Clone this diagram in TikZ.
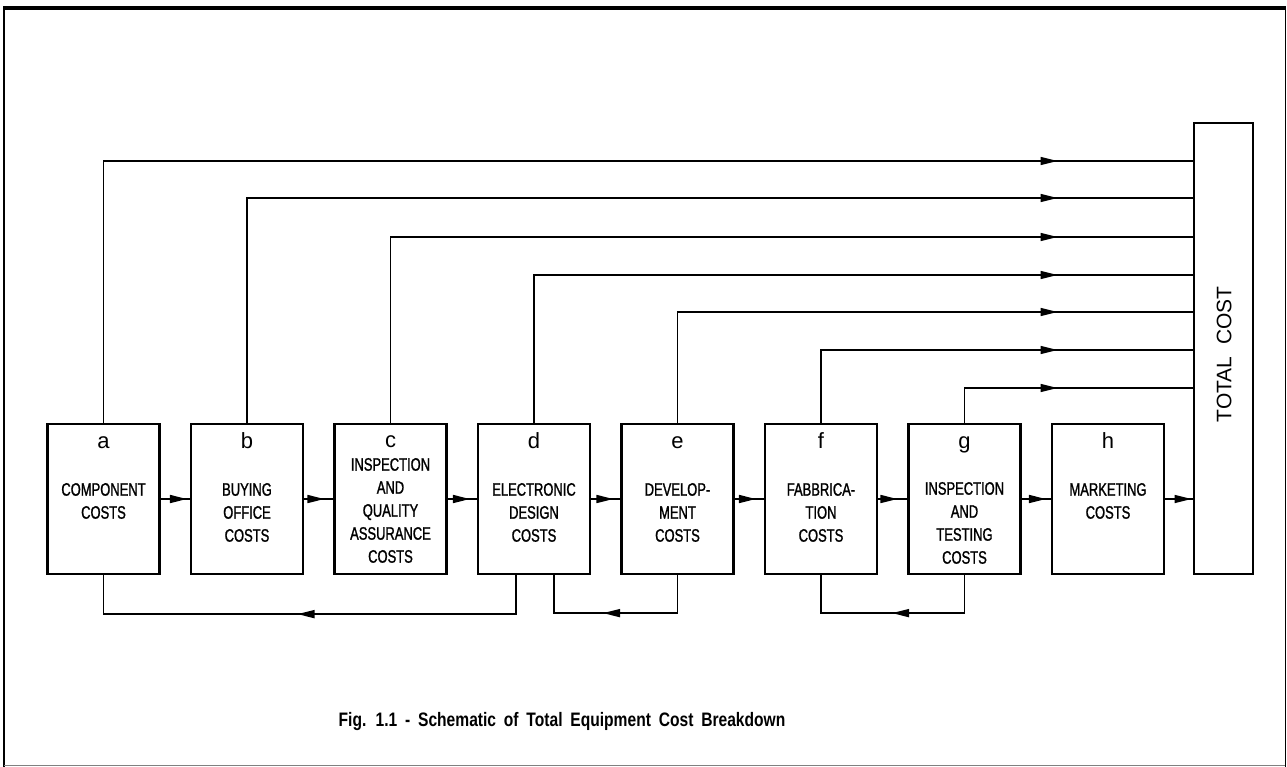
\documentclass[tikz,border=0pt]{standalone}
\usepackage{fontspec}
\setmainfont{Liberation Sans}
\newfontfamily\boxfont[FakeStretch=0.72,FakeBold=1.2]{Liberation Sans}
\newfontfamily\capfont[FakeStretch=0.8]{Liberation Sans}
\usetikzlibrary{arrows.meta,positioning,calc,decorations.markings}

\begin{document}
\begin{tikzpicture}[x=1pt, y=-1pt,
    cbox/.style={rectangle, draw, line width=2.2pt, minimum width=112pt, minimum height=150pt, inner sep=0pt},
    tag/.style={font=\fontsize{22}{22}\selectfont, anchor=base, inner sep=0pt},
    ctext/.style={font=\boxfont\fontsize{18}{23}\selectfont, align=center, anchor=north, inner sep=0pt},
    flow/.style={line width=1.5pt, postaction={decorate},
        decoration={markings, mark=at position #1 with {\arrow{Triangle[length=17pt,width=8pt]}}}},
    node distance=29.3pt
]
    \useasboundingbox (0,0) rectangle (1287,767);

    % Frame
    \draw[line width=3.5pt] (3,8) -- (1286,8);
    \draw[line width=1.3pt] (4,8) -- (4,767);
    \draw[line width=1pt] (1285,8) -- (1285,767);
    \draw[line width=1pt, gray] (4,765) -- (1285,765);

    % Cost boxes
    \node[cbox] (a) at (103.5,499) {};
    \node[cbox, right=of a] (b) {};
    \node[cbox, right=of b] (c) {};
    \node[cbox, right=of c] (d) {};
    \node[cbox, right=of d] (e) {};
    \node[cbox, right=of e] (f) {};
    \node[cbox, right=of f] (g) {};
    \node[cbox, right=of g] (h) {};

    % Total
    \node[cbox, minimum width=59pt, minimum height=451pt, right=27.5pt of h.south east, anchor=south west] (tot) {};
    \node[font=\fontsize{21}{21}\selectfont, rotate=90] (totT) at ($(tot.center)+(1,6)$) {TOTAL\ \ COST};

    % Letters
    \node[tag] (aL) at ($(a.north)+(0,26)$) {a};
    \node[tag] (bL) at ($(b.north)+(0,26)$) {b};
    \node[tag] (cL) at ($(c.north)+(0,25)$) {c};
    \node[tag] (dL) at ($(d.north)+(0,26)$) {d};
    \node[tag] (eL) at ($(e.north)+(0,26)$) {e};
    \node[tag] (fL) at ($(f.north)+(0,26)$) {f};
    \node[tag] (gL) at ($(g.north)+(0,26)$) {g};
    \node[tag] (hL) at ($(h.north)+(0,26)$) {h};

    % Box texts
    \node[ctext] (aT) at ($(a.north)+(0,60)$) {COMPONENT\\COSTS};
    \node[ctext] (bT) at ($(b.north)+(0,60)$) {BUYING\\OFFICE\\COSTS};
    \node[ctext] (cT) at ($(c.north)+(0,35)$) {INSPECTION\\AND\\QUALITY\\ASSURANCE\\COSTS};
    \node[ctext] (dT) at ($(d.north)+(0,60)$) {ELECTRONIC\\DESIGN\\COSTS};
    \node[ctext] (eT) at ($(e.north)+(0,60)$) {DEVELOP-\\MENT\\COSTS};
    \node[ctext] (fT) at ($(f.north)+(0,60)$) {FABBRICA-\\TION\\COSTS};
    \node[ctext] (gT) at ($(g.north)+(0,59)$) {INSPECTION\\AND\\TESTING\\COSTS};
    \node[ctext] (hT) at ($(h.north)+(0,60)$) {MARKETING\\COSTS};

    % Chain
    \draw[flow=-3pt] (a) -- (b);
    \draw[flow=-9pt] (b) -- (c);
    \draw[flow=-7pt] (c) -- (d);
    \draw[flow=-7pt] (d) -- (e);
    \draw[flow=-8pt] (e) -- (f);
    \draw[flow=-10pt] (f) -- (g);
    \draw[flow=-5pt] (g) -- (h);
    \draw[flow=-1pt] (h.east) -- (h.east -| tot.west);

    % Feeds to total
    \draw[flow=-135pt] (a.north) |- (tot.west |- 0,161);
    \draw[flow=-135pt] (b.north) |- (tot.west |- 0,198);
    \draw[flow=-135pt] (c.north) |- (tot.west |- 0,237);
    \draw[flow=-135pt] (d.north) |- (tot.west |- 0,275);
    \draw[flow=-135pt] (e.north) |- (tot.west |- 0,312);
    \draw[flow=-135pt] (f.north) |- (tot.west |- 0,350);
    \draw[flow=-135pt] (g.north) |- (tot.west |- 0,388);

    % Return loops
    \draw[flow=-233pt] ([xshift=-18pt]d.south) |- ($(a.south)+(0,39)$) -- (a.south);
    \draw[flow=-87pt] (e.south) |- ($([xshift=20pt]d.south)+(0,38)$) -- ([xshift=20pt]d.south);
    \draw[flow=-109pt] (g.south) |- ($(f.south)+(0,38)$) -- (f.south);

    % Caption
    \node[font=\capfont\bfseries\fontsize{19.5}{19.5}\selectfont] (cap) at (562,721) {\spaceskip=0.4em Fig. 1.1 - Schematic of Total Equipment Cost Breakdown};
\end{tikzpicture}
\end{document}
